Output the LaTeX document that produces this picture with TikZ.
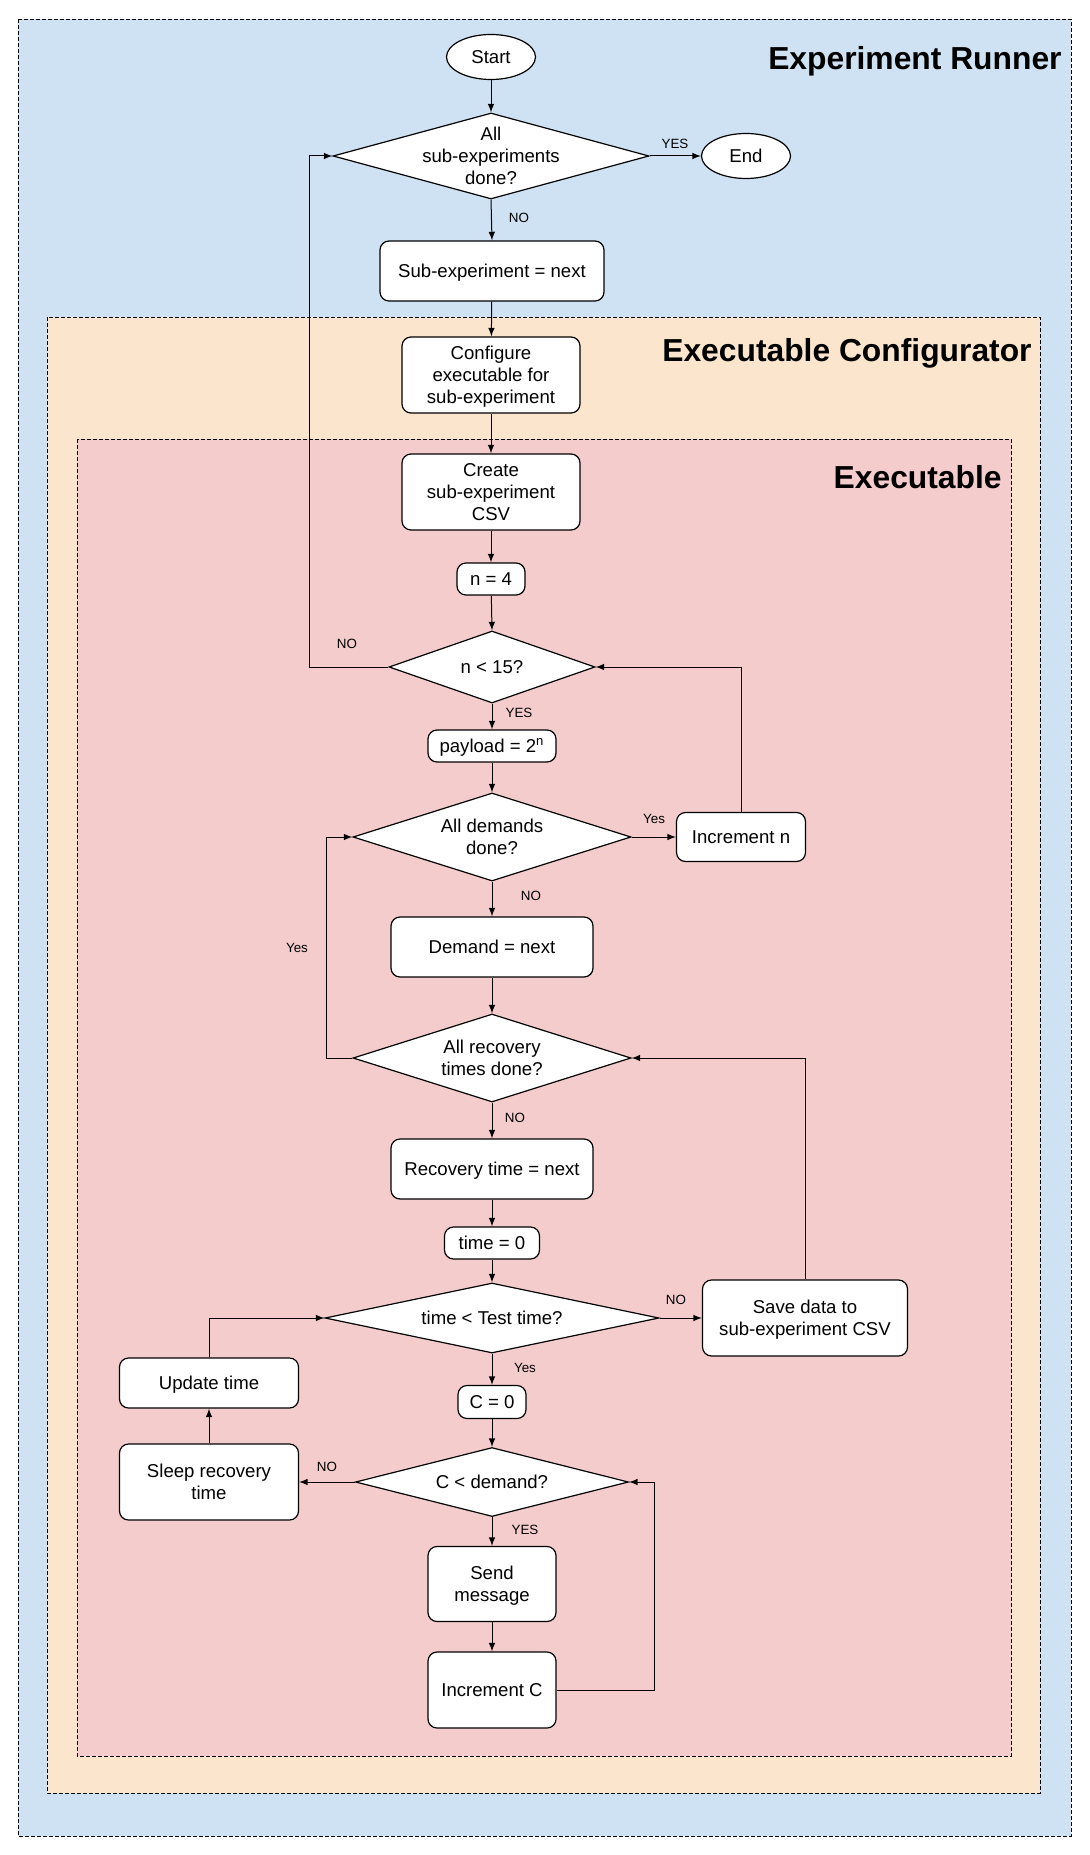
\documentclass[tikz,border=0pt]{standalone}
\usepackage{fontspec}
\setmainfont{Liberation Sans}
\usetikzlibrary{shapes.geometric}
\definecolor{runnerbg}{HTML}{CFE2F3}
\definecolor{configbg}{HTML}{FCE5CD}
\definecolor{execbg}{HTML}{F4CCCC}
\newcommand\ctext[1]{\makebox[0pt]{\raisebox{\dimexpr.5\depth-.5\height-1.2pt\relax}[0pt][0pt]{\begin{tabular}[b]{@{}c@{}}#1\end{tabular}}}}

\begin{document}
\begin{tikzpicture}[x=0.5pt, y=-0.5pt,
            every node/.style = {font=\fontsize{9.3}{10.9}\selectfont},
            box/.style = {draw, fill=white, rounded corners=4.5pt, inner sep=0pt, line width=0.6pt},
            dec/.style = {draw, fill=white, diamond, inner sep=0pt, line width=0.6pt},
            term/.style = {draw, fill=white, ellipse, inner sep=0pt, line width=0.6pt, minimum width=44.5pt, minimum height=22.5pt},
            lbl/.style = {font=\fontsize{6.7}{8}\selectfont},
            title/.style = {font=\fontsize{15.9}{18}\selectfont\bfseries, anchor=east, inner sep=0pt},
            zone/.style = {draw, dash pattern=on 2pt off 1pt, line width=0.4pt},
            arr/.style = {draw, -latex, line width=0.5pt}
        ]
        \useasboundingbox (0,0) rectangle (1090,1855);
        \path[zone, fill=runnerbg] (18,19) rectangle (1071,1836);
        \path[zone, fill=configbg] (47,317) rectangle (1040,1793);
        \path[zone, fill=execbg] (77,439) rectangle (1011,1756);
        \node[title] (runner) at (1062,61) {Experiment Runner};
        \node[title] (configurator) at (1032,353) {Executable Configurator};
        \node[title] (executable) at (1002,477) {Executable};

        \node[term] (start) at (491,57) {\ctext{Start}};
        \node[dec, minimum width=158pt, minimum height=43pt] (allsub) at (491,156) {\ctext{All\\sub-experiments\\done?}};
        \node[term] (end) at (746,156) {\ctext{End}};
        \node[box, minimum width=112pt, minimum height=30pt] (subnext) at (492,271) {\ctext{Sub-experiment = next}};
        \node[box, minimum width=89pt, minimum height=38pt] (configure) at (491,375) {\ctext{Configure\\executable for\\sub-experiment}};
        \node[box, minimum width=89pt, minimum height=38pt] (createcsv) at (491,492) {\ctext{Create\\sub-experiment\\CSV}};
        \node[box, minimum width=34pt, minimum height=16pt] (nfour) at (491,579) {\ctext{n = 4}};
        \node[dec, minimum width=103pt, minimum height=36pt] (nless) at (492,667) {\ctext{n < 15?}};
        \node[box, minimum width=64pt, minimum height=16pt] (payload) at (492,746) {\ctext{payload = 2\textsuperscript{n}}};
        \node[dec, minimum width=139pt, minimum height=44pt] (alldem) at (492,837) {\ctext{All demands\\done?}};
        \node[box, minimum width=64.5pt, minimum height=24.5pt] (incn) at (741,837) {\ctext{Increment n}};
        \node[box, minimum width=101pt, minimum height=30pt] (demnext) at (492,947) {\ctext{Demand = next}};
        \node[dec, minimum width=139pt, minimum height=44pt] (allrec) at (492,1058) {\ctext{All recovery\\times done?}};
        \node[box, minimum width=101pt, minimum height=30pt] (recnext) at (492,1169) {\ctext{Recovery time = next}};
        \node[box, minimum width=47.5pt, minimum height=16pt] (timezero) at (492,1243) {\ctext{time = 0}};
        \node[dec, minimum width=167pt, minimum height=35pt] (timeless) at (492,1318) {\ctext{time < Test time?}};
        \node[box, minimum width=102.5pt, minimum height=38pt] (savecsv) at (805,1318) {\ctext{Save data to\\sub-experiment CSV}};
        \node[box, minimum width=34pt, minimum height=16.5pt] (czero) at (492,1402) {\ctext{C = 0}};
        \node[dec, minimum width=136.5pt, minimum height=34.5pt] (cless) at (492,1482) {\ctext{C < demand?}};
        \node[box, minimum width=89.5pt, minimum height=38pt] (sleep) at (209,1482) {\ctext{Sleep recovery\\time}};
        \node[box, minimum width=89.5pt, minimum height=25pt] (update) at (209,1383) {\ctext{Update time}};
        \node[box, minimum width=64pt, minimum height=37.5pt] (send) at (492,1584) {\ctext{Send\\message}};
        \node[box, minimum width=64pt, minimum height=38pt] (incc) at (492,1690) {\ctext{Increment C}};

        \draw[arr] (start) -- (allsub);
        \draw[arr] (allsub.east) -- (end.west);
        \draw[arr] (allsub.south) -- (subnext.north);
        \draw[arr] (subnext) -- (configure);
        \draw[arr] (configure) -- (createcsv);
        \draw[arr] (createcsv) -- (nfour);
        \draw[arr] (nfour) -- (nless.north);
        \draw[arr] (nless.west) -- ++(-79,0) |- (allsub.west);
        \draw[arr] (nless.south) -- (payload.north);
        \draw[arr] (payload) -- (alldem.north);
        \draw[arr] (alldem.east) -- (incn.west);
        \draw[arr] (incn.north) |- (nless.east);
        \draw[arr] (alldem.south) -- (demnext.north);
        \draw[arr] (demnext) -- (allrec.north);
        \draw[arr] (allrec.west) -- ++(-26,0) |- (alldem.west);
        \draw[arr] (allrec.south) -- (recnext.north);
        \draw[arr] (recnext) -- (timezero);
        \draw[arr] (timezero) -- (timeless.north);
        \draw[arr] (timeless.east) -- (savecsv.west);
        \draw[arr] (savecsv.north) |- (allrec.east);
        \draw[arr] (timeless.south) -- (czero.north);
        \draw[arr] (czero) -- (cless.north);
        \draw[arr] (cless.west) -- (sleep.east);
        \draw[arr] (sleep) -- (update);
        \draw[arr] (update.north) |- (timeless.west);
        \draw[arr] (cless.south) -- (send.north);
        \draw[arr] (send) -- (incc);
        \draw[arr] (incc.east) -- ++(98,0) |- (cless.east);

        \node[lbl] (yesend) at (675,144) {YES};
        \node[lbl] (nosub) at (519,218) {NO};
        \node[lbl] (noloop) at (347,644) {NO};
        \node[lbl] (yespay) at (519,713) {YES};
        \node[lbl] (yesincn) at (654,819) {Yes};
        \node[lbl] (nodem) at (531,896) {NO};
        \node[lbl] (yesloop) at (297,948) {Yes};
        \node[lbl] (norec) at (515,1118) {NO};
        \node[lbl] (nosave) at (676,1300) {NO};
        \node[lbl] (yesczero) at (525,1368) {Yes};
        \node[lbl] (nosleep) at (327,1467) {NO};
        \node[lbl] (yessend) at (525,1530) {YES};
    \end{tikzpicture}
\end{document}
